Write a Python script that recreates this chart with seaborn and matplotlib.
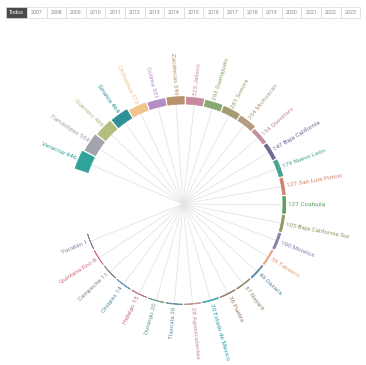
import numpy as np
import matplotlib
matplotlib.use("Agg")
import matplotlib.pyplot as plt
from matplotlib.patches import Rectangle
import seaborn as sns

# data, in drawing order (clockwise)
states = ["Veracruz", "Tamaulipas", "Guerrero", "Sinaloa", "Chihuahua", "Colima",
          "Zacatecas", "Jalisco", "Guanajuato", "Sonora", "Michoacán", "Querétaro",
          "Baja California", "Nuevo León", "San Luis Potosí", "Coahuila",
          "Baja California Sur", "Morelos", "Tabasco", "Oaxaca", "Nayarit", "Puebla",
          "Estado de México", "Aguascalientes", "Tlaxcala", "Durango", "Hidalgo",
          "Chiapas", "Campeche", "Quintana Roo", "Yucatán"]
values = [646, 554, 489, 464, 373, 331, 349, 325, 293, 281, 254, 154, 147, 179, 127,
          127, 105, 100, 58, 49, 37, 36, 30, 28, 26, 20, 15, 14, 11, 8, 1]
colors = ["#2fa39a", "#a3a3ab", "#b4bd80", "#2f9096", "#f0c48a", "#b48cc4",
          "#b8926e", "#c98aa0", "#8aa872", "#a39b72", "#b39c80", "#c4909e",
          "#6c6c94", "#4aa392", "#d0846e", "#5a9c62", "#8a9c62", "#8282aa",
          "#e3a482", "#5c8ca2", "#8c9272", "#a28272", "#33a2b2", "#c49292",
          "#7292a2", "#72a282", "#c27292", "#6292b2", "#828a92", "#d27282", "#8282a2"]
years = ["Todos"] + [str(y) for y in range(2007, 2024)]

sns.set_theme(style="white")
plt.rcParams["font.family"] = ["Roboto", "DejaVu Sans"]

W, H = 366, 365
fig = plt.figure(figsize=(W / 100, H / 100), dpi=100)

# polar axes: one data unit = one pixel, centre at (183, 204)
cx, cy, R = 183, 204, 120
ax = fig.add_axes([(cx - R) / W, (H - cy - R) / H, 2 * R / W, 2 * R / H], polar=True)
ax.set_theta_zero_location("N")
ax.set_theta_direction(-1)
ax.set_ylim(0, R)
ax.axis("off")

inner = 100
scale = 0.021
step = 10.5
start = -67
angles_deg = np.array([start + i * step for i in range(len(states))])
theta = np.deg2rad(angles_deg)
heights = np.array(values) * scale

for t in theta:
    ax.plot([t, t], [0, inner], color="#e4e4e4", lw=0.6, zorder=1)

ax.bar(theta, heights, width=np.deg2rad(9.3), bottom=inner, color=colors,
       edgecolor=colors, linewidth=0.6, zorder=3)

for ang, t, h, name, v, c in zip(angles_deg, theta, heights, states, values, colors):
    a = ang % 360
    r = inner + h + 2.5
    if 0 < a < 180:
        ax.text(t, r, f"{v} {name}", rotation=90 - a, rotation_mode="anchor",
                ha="left", va="center", fontsize=4.6, color=c, clip_on=False)
    else:
        ax.text(t, r, f"{name} {v}", rotation=270 - a, rotation_mode="anchor",
                ha="right", va="center", fontsize=4.6, color=c, clip_on=False)

# year selector buttons along the top
x0, y0, bh = 6, 7, 11
widths = [21] + [19.6] * 17
x = x0
for lab, w in zip(years, widths):
    active = lab == "Todos"
    fig.patches.append(Rectangle((x / W, 1 - (y0 + bh) / H), w / W, bh / H,
                                 transform=fig.transFigure,
                                 facecolor="#4a4a4a" if active else "white",
                                 edgecolor="#d8d8d8", lw=0.5))
    fig.text((x + w / 2) / W, 1 - (y0 + bh / 2) / H, lab, ha="center", va="center",
             fontsize=3.8, color="white" if active else "#8a8a8a")
    x += w

fig.savefig("out.png", dpi=100, facecolor="white")
